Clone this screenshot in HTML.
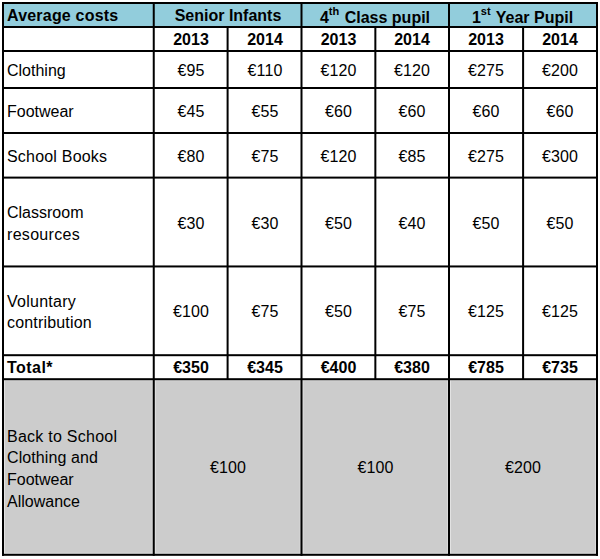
<!DOCTYPE html>
<html><head><meta charset="utf-8"><style>
html,body{margin:0;padding:0;background:#fff;width:600px;height:559px;overflow:hidden;position:relative}
.r{position:absolute}
.t{position:absolute;font-family:"Liberation Sans",sans-serif;font-size:16px;line-height:20px;color:#000;white-space:nowrap}
.b{font-weight:bold}
sup{font-size:11px;line-height:0;vertical-align:0;position:relative;top:-8px;margin-right:1px}
</style></head><body>
<svg width="600" height="559" style="position:absolute;left:0;top:0"><rect x="3" y="3" width="594" height="24" fill="#92cddc"/><rect x="3" y="379" width="594" height="176" fill="#cccccc"/><rect x="4" y="380" width="1" height="173.8" fill="#e2e2e2"/><rect x="151.75" y="380" width="1" height="173.8" fill="#e2e2e2" opacity="0.6"/><rect x="154.75" y="380" width="1" height="173.8" fill="#e2e2e2"/><rect x="299.5" y="380" width="1" height="173.8" fill="#e2e2e2" opacity="0.6"/><rect x="302.5" y="380" width="1" height="173.8" fill="#e2e2e2"/><rect x="447.0" y="380" width="1" height="173.8" fill="#e2e2e2" opacity="0.6"/><rect x="450.0" y="380" width="1" height="173.8" fill="#e2e2e2"/><rect x="595" y="380" width="1" height="173.8" fill="#e2e2e2" opacity="0.6"/><rect x="3" y="552.8" width="594" height="1" fill="#e2e2e2"/><rect x="3" y="380.2" width="594" height="1" fill="#e2e2e2" opacity="0.6"/><rect x="2" y="2" width="596" height="2" fill="#000"/><rect x="2" y="26" width="596" height="2" fill="#000"/><rect x="2" y="50" width="596" height="2" fill="#000"/><rect x="2" y="87" width="596" height="2" fill="#000"/><rect x="2" y="132" width="596" height="2" fill="#000"/><rect x="2" y="176.6" width="596" height="2" fill="#000"/><rect x="2" y="265.45" width="596" height="2" fill="#000"/><rect x="2" y="354.2" width="596" height="2" fill="#000"/><rect x="2" y="378.2" width="596" height="2" fill="#000"/><rect x="2" y="553.8" width="596" height="2" fill="#000"/><rect x="2" y="2" width="2" height="553.8" fill="#000"/><rect x="152.75" y="2" width="2" height="553.8" fill="#000"/><rect x="300.5" y="2" width="2" height="553.8" fill="#000"/><rect x="448.0" y="2" width="2" height="553.8" fill="#000"/><rect x="596" y="2" width="2" height="553.8" fill="#000"/><rect x="226.6" y="26" width="2" height="354" fill="#000"/><rect x="374.35" y="26" width="2" height="354" fill="#000"/><rect x="522.1" y="26" width="2" height="354" fill="#000"/></svg>
<div class="t b" style="left:7px;top:5.96px;letter-spacing:0.2px;">Average costs</div>
<div class="t b" style="left:155.00px;width:146px;top:5.96px;text-align:center;">Senior Infants</div>
<div class="t b" style="left:302.00px;width:146px;top:7.66px;text-align:center;">4<sup>th</sup> Class pupil</div>
<div class="t b" style="left:449.00px;width:147px;top:7.66px;text-align:center;">1<sup>st</sup> Year Pupil</div>
<div class="t b" style="left:155.00px;width:72px;top:29.96px;text-align:center;">2013</div>
<div class="t b" style="left:229.00px;width:72px;top:29.96px;text-align:center;">2014</div>
<div class="t b" style="left:303.00px;width:71px;top:29.96px;text-align:center;">2013</div>
<div class="t b" style="left:376.00px;width:72px;top:29.96px;text-align:center;">2014</div>
<div class="t b" style="left:450.00px;width:72px;top:29.96px;text-align:center;">2013</div>
<div class="t b" style="left:524.00px;width:72px;top:29.96px;text-align:center;">2014</div>
<div class="t" style="left:7px;top:61.06px;">Clothing</div>
<div class="t" style="left:155.07px;width:72px;top:60.96px;letter-spacing:0.15px;text-align:center;">€95</div>
<div class="t" style="left:229.07px;width:72px;top:60.96px;letter-spacing:0.15px;text-align:center;">€110</div>
<div class="t" style="left:303.07px;width:71px;top:60.96px;letter-spacing:0.15px;text-align:center;">€120</div>
<div class="t" style="left:376.07px;width:72px;top:60.96px;letter-spacing:0.15px;text-align:center;">€120</div>
<div class="t" style="left:450.07px;width:72px;top:60.96px;letter-spacing:0.15px;text-align:center;">€275</div>
<div class="t" style="left:524.08px;width:72px;top:60.96px;letter-spacing:0.15px;text-align:center;">€200</div>
<div class="t" style="left:7px;top:101.86px;">Footwear</div>
<div class="t" style="left:155.07px;width:72px;top:101.86px;letter-spacing:0.15px;text-align:center;">€45</div>
<div class="t" style="left:229.07px;width:72px;top:101.86px;letter-spacing:0.15px;text-align:center;">€55</div>
<div class="t" style="left:303.07px;width:71px;top:101.86px;letter-spacing:0.15px;text-align:center;">€60</div>
<div class="t" style="left:376.07px;width:72px;top:101.86px;letter-spacing:0.15px;text-align:center;">€60</div>
<div class="t" style="left:450.07px;width:72px;top:101.86px;letter-spacing:0.15px;text-align:center;">€60</div>
<div class="t" style="left:524.08px;width:72px;top:101.86px;letter-spacing:0.15px;text-align:center;">€60</div>
<div class="t" style="left:7px;top:147.46px;letter-spacing:0.2px;">School Books</div>
<div class="t" style="left:155.07px;width:72px;top:147.46px;letter-spacing:0.15px;text-align:center;">€80</div>
<div class="t" style="left:229.07px;width:72px;top:147.46px;letter-spacing:0.15px;text-align:center;">€75</div>
<div class="t" style="left:303.07px;width:71px;top:147.46px;letter-spacing:0.15px;text-align:center;">€120</div>
<div class="t" style="left:376.07px;width:72px;top:147.46px;letter-spacing:0.15px;text-align:center;">€85</div>
<div class="t" style="left:450.07px;width:72px;top:147.46px;letter-spacing:0.15px;text-align:center;">€275</div>
<div class="t" style="left:524.08px;width:72px;top:147.46px;letter-spacing:0.15px;text-align:center;">€300</div>
<div class="t" style="left:7px;top:202.86px;">Classroom</div>
<div class="t" style="left:7px;top:224.66px;letter-spacing:0.3px;">resources</div>
<div class="t" style="left:155.07px;width:72px;top:213.96px;letter-spacing:0.15px;text-align:center;">€30</div>
<div class="t" style="left:229.07px;width:72px;top:213.96px;letter-spacing:0.15px;text-align:center;">€30</div>
<div class="t" style="left:303.07px;width:71px;top:213.96px;letter-spacing:0.15px;text-align:center;">€50</div>
<div class="t" style="left:376.07px;width:72px;top:213.96px;letter-spacing:0.15px;text-align:center;">€40</div>
<div class="t" style="left:450.07px;width:72px;top:213.96px;letter-spacing:0.15px;text-align:center;">€50</div>
<div class="t" style="left:524.08px;width:72px;top:213.96px;letter-spacing:0.15px;text-align:center;">€50</div>
<div class="t" style="left:7px;top:291.56px;letter-spacing:0.25px;">Voluntary</div>
<div class="t" style="left:7px;top:313.36px;letter-spacing:0.18px;">contribution</div>
<div class="t" style="left:155.07px;width:72px;top:302.46px;letter-spacing:0.15px;text-align:center;">€100</div>
<div class="t" style="left:229.07px;width:72px;top:302.46px;letter-spacing:0.15px;text-align:center;">€75</div>
<div class="t" style="left:303.07px;width:71px;top:302.46px;letter-spacing:0.15px;text-align:center;">€50</div>
<div class="t" style="left:376.07px;width:72px;top:302.46px;letter-spacing:0.15px;text-align:center;">€75</div>
<div class="t" style="left:450.07px;width:72px;top:302.46px;letter-spacing:0.15px;text-align:center;">€125</div>
<div class="t" style="left:524.08px;width:72px;top:302.46px;letter-spacing:0.15px;text-align:center;">€125</div>
<div class="t b" style="left:7px;top:358.46px;letter-spacing:0.45px;">Total*</div>
<div class="t b" style="left:155.00px;width:72px;top:358.46px;text-align:center;">€350</div>
<div class="t b" style="left:229.00px;width:72px;top:358.46px;text-align:center;">€345</div>
<div class="t b" style="left:303.00px;width:71px;top:358.46px;text-align:center;">€400</div>
<div class="t b" style="left:376.00px;width:72px;top:358.46px;text-align:center;">€380</div>
<div class="t b" style="left:450.00px;width:72px;top:358.46px;text-align:center;">€785</div>
<div class="t b" style="left:524.00px;width:72px;top:358.46px;text-align:center;">€735</div>
<div class="t" style="left:7px;top:426.66px;letter-spacing:0.25px;">Back to School</div>
<div class="t" style="left:7px;top:448.46px;letter-spacing:0.1px;">Clothing and</div>
<div class="t" style="left:7px;top:470.46px;">Footwear</div>
<div class="t" style="left:7px;top:492.26px;">Allowance</div>
<div class="t" style="left:155.07px;width:146px;top:457.96px;letter-spacing:0.15px;text-align:center;">€100</div>
<div class="t" style="left:303.07px;width:145px;top:457.96px;letter-spacing:0.15px;text-align:center;">€100</div>
<div class="t" style="left:450.07px;width:146px;top:457.96px;letter-spacing:0.15px;text-align:center;">€200</div>
</body></html>
